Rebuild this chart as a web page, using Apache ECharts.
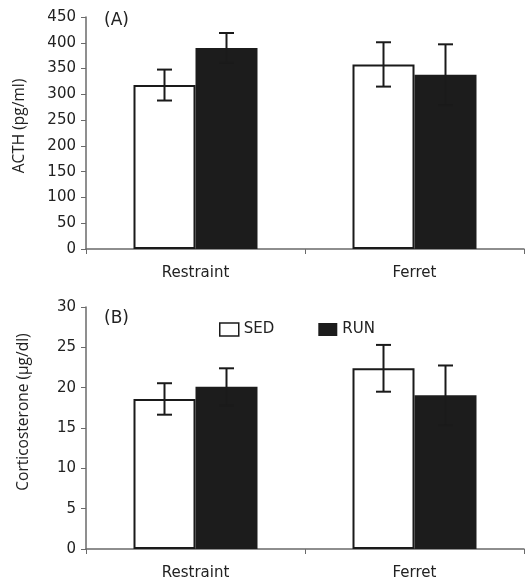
<!DOCTYPE html>
<html><head><meta charset="utf-8">
<script src="https://cdn.jsdelivr.net/npm/echarts@6/dist/echarts.min.js"></script>
<style>html,body{margin:0;padding:0;background:#fff}#c{width:525px;height:581px}</style>
</head><body><div id="c"></div>
<script>
const categories = ['Restraint', 'Ferret'];
const acthSed = [318, 358];
const acthSedErr = [30, 43];
const acthRun = [390, 338];
const acthRunErr = [29, 59];
const corSed = [18.6, 22.4];
const corSedErr = [1.95, 2.9];
const corRun = [20.1, 19.05];
const corRunErr = [2.3, 3.7];
const yNames = ['ACTH (pg/ml)', 'Corticosterone (\u00b5g/dl)'];
const panelTags = ['(A)', '(B)'];

const FONT = 'Open Sans';
const WIDE = 'DejaVu Sans';
const BW = 62;
const chart = echarts.init(document.getElementById('c'), null, {renderer: 'canvas'});

function errSeries(name, gi, vals, errs, side) {
  return {
    type: 'custom', name: name + '_err', xAxisIndex: gi, yAxisIndex: gi, z: 5,
    silent: true,
    data: vals.map((v, i) => [i, v, v - errs[i], v + errs[i]]),
    renderItem: function (params, api) {
      const c = api.coord([api.value(0), api.value(1)]);
      const x = c[0] + side * BW / 2;
      const lo = api.coord([api.value(0), api.value(2)])[1];
      const hi = api.coord([api.value(0), api.value(3)])[1];
      const cap = 7.5;
      const st = {stroke: '#1a1a1a', lineWidth: 2};
      return {type: 'group', children: [
        {type: 'line', shape: {x1: x, y1: lo, x2: x, y2: hi}, style: st},
        {type: 'line', shape: {x1: x - cap, y1: hi, x2: x + cap, y2: hi}, style: st},
        {type: 'line', shape: {x1: x - cap, y1: lo, x2: x + cap, y2: lo}, style: st}
      ]};
    }
  };
}

const axisLine = {lineStyle: {color: '#6a6a6a', width: 1.5}};
const label = {fontFamily: WIDE, fontSize: 15, color: '#222'};

function yName(text, x, y) {
  return {type: 'text', x: x, y: y, rotation: Math.PI / 2,
    style: {text: text, fontFamily: FONT, fontSize: 15.5, fill: '#222', align: 'center', verticalAlign: 'middle'}};
}

chart.setOption({
  animation: false,
  textStyle: {fontFamily: FONT},
  title: [
    {text: panelTags[0], left: 99, top: 7, textStyle: {fontFamily: WIDE, fontSize: 17, fontWeight: 'normal', color: '#222'}},
    {text: panelTags[1], left: 99, top: 305, textStyle: {fontFamily: WIDE, fontSize: 17, fontWeight: 'normal', color: '#222'}}
  ],
  graphic: [yName(yNames[0], 19.5, 126), yName(yNames[1], 23.5, 412)],
  legend: {
    left: 214, top: 317, itemWidth: 19, itemHeight: 13, itemGap: 44,
    icon: 'rect',
    textStyle: {fontFamily: WIDE, fontSize: 15, color: '#222'},
    data: [
      {name: 'SED', itemStyle: {color: '#fff', borderColor: '#1a1a1a', borderWidth: 1.5}},
      {name: 'RUN', itemStyle: {color: '#1c1c1c'}}
    ]
  },
  grid: [
    {left: 86, right: 1, top: 17, height: 232},
    {left: 86, right: 1, top: 307, height: 245}
  ],
  xAxis: [0, 1].map(gi => ({
    type: 'category', gridIndex: gi, data: categories,
    axisLine: axisLine, axisTick: {show: true, length: 5, lineStyle: {color: '#6a6a6a'}},
    axisLabel: Object.assign({margin: 17}, label)
  })),
  yAxis: [
    {type: 'value', gridIndex: 0, min: 0, max: 450, interval: 50,
     axisLine: Object.assign({show: true}, axisLine), axisTick: {show: true, length: 5, lineStyle: {color: '#6a6a6a'}},
     splitLine: {show: false}, axisLabel: Object.assign({margin: 10}, label)},
    {type: 'value', gridIndex: 1, min: 0, max: 30, interval: 5,
     axisLine: Object.assign({show: true}, axisLine), axisTick: {show: true, length: 5, lineStyle: {color: '#6a6a6a'}},
     splitLine: {show: false}, axisLabel: Object.assign({margin: 10}, label)}
  ],
  series: [
    {type: 'bar', name: 'SED', xAxisIndex: 0, yAxisIndex: 0, data: acthSed, barWidth: BW, barGap: '0%',
     itemStyle: {color: '#fff', borderColor: '#1a1a1a', borderWidth: 2}},
    {type: 'bar', name: 'RUN', xAxisIndex: 0, yAxisIndex: 0, data: acthRun, barWidth: BW, barGap: '0%',
     itemStyle: {color: '#1c1c1c', borderColor: '#1c1c1c', borderWidth: 0}},
    {type: 'bar', name: 'SED', xAxisIndex: 1, yAxisIndex: 1, data: corSed, barWidth: BW, barGap: '0%',
     itemStyle: {color: '#fff', borderColor: '#1a1a1a', borderWidth: 2}},
    {type: 'bar', name: 'RUN', xAxisIndex: 1, yAxisIndex: 1, data: corRun, barWidth: BW, barGap: '0%',
     itemStyle: {color: '#1c1c1c', borderColor: '#1c1c1c', borderWidth: 0}},
    errSeries('SED', 0, acthSed, acthSedErr, -1),
    errSeries('RUN', 0, acthRun, acthRunErr, 1),
    errSeries('SED', 1, corSed, corSedErr, -1),
    errSeries('RUN', 1, corRun, corRunErr, 1)
  ]
});
</script></body></html>
